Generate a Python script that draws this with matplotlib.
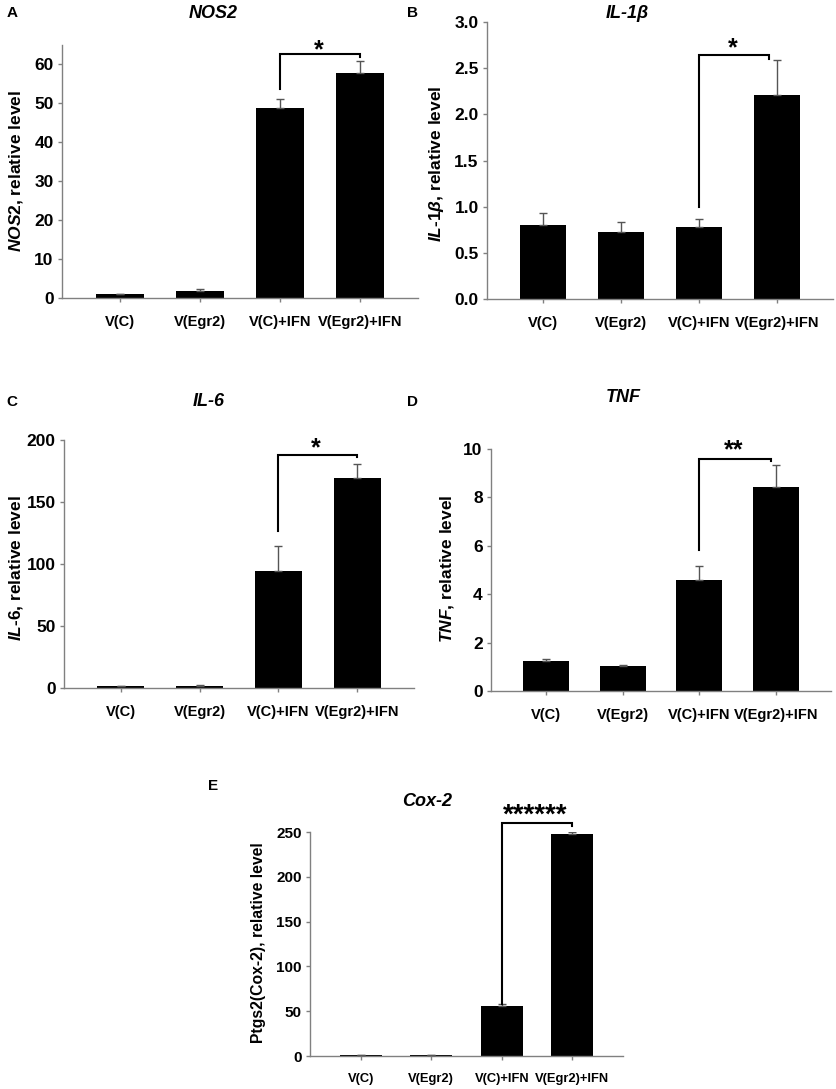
import matplotlib
matplotlib.use('Agg')
import matplotlib.pyplot as plt

W, H = 836, 1089

plt.rcParams['font.family'] = ['Liberation Sans', 'DejaVu Sans']
plt.rcParams['font.weight'] = 'bold'
plt.rcParams['mathtext.fontset'] = 'custom'
plt.rcParams['mathtext.it'] = 'Liberation Sans:italic:bold'
plt.rcParams['mathtext.rm'] = 'Liberation Sans:bold'
plt.rcParams['mathtext.bf'] = 'Liberation Sans:bold'

groups = ['V(C)', 'V(Egr2)', 'V(C)+IFN', 'V(Egr2)+IFN']

nos2_vals = [0.95, 1.8, 48.8, 57.9]
nos2_err = [0.1, 0.4, 2.4, 2.9]

il1b_vals = [0.80, 0.726, 0.776, 2.206]
il1b_err = [0.13, 0.11, 0.094, 0.384]

il6_vals = [1.5, 2.0, 94.3, 169.0]
il6_err = [0.5, 0.5, 20.3, 12.0]

tnf_vals = [1.22, 1.02, 4.58, 8.43]
tnf_err = [0.12, 0.04, 0.59, 0.91]

cox2_vals = [0.8, 0.8, 55.5, 248.0]
cox2_err = [0.3, 0.3, 2.0, 2.0]

# significance brackets: (left x, left bottom, top, right x, right bottom, stars)
nos2_sig = (2, 53.8, 62.6, 3, 61.8, '*')
il1b_sig = (2, 1.0, 2.64, 2.9, 2.6, '*')
il6_sig = (2, 127, 188, 3, 186, '*')
tnf_sig = (2, 5.83, 9.59, 2.93, 9.5, '**')
cox2_sig = (2, 58, 260, 3, 257, '******')


def px(x, y):
    return x / W, 1 - y / H


def make_axes(fig, left, top, right, bottom):
    return fig.add_axes([left / W, 1 - bottom / H, (right - left) / W, (bottom - top) / H])


def draw_panel(ax, vals, errs, ylim, yticks, sig, tick_fs=12.5, xtick_fs=10.5,
               star_fs=18, star_y=None, tick_fmt='{:g}'):
    x = list(range(len(groups)))
    ax.bar(x, vals, width=0.6, color='black', zorder=2)
    ax.errorbar(x, vals, yerr=[[0] * len(vals), errs], fmt='none', ecolor='#555555',
                elinewidth=1, capsize=3, capthick=1, zorder=3)
    ax.set_xlim(-0.72, 3.72)
    ax.set_ylim(*ylim)
    ax.set_yticks(yticks)
    ax.set_yticklabels([tick_fmt.format(t) for t in yticks], fontsize=tick_fs, fontweight='bold')
    ax.set_xticks(x)
    ax.set_xticklabels(groups, fontsize=xtick_fs, fontweight='bold')
    for s in ['top', 'right']:
        ax.spines[s].set_visible(False)
    for s in ['left', 'bottom']:
        ax.spines[s].set_color('#808080')
        ax.spines[s].set_linewidth(1)
    ax.tick_params(axis='y', direction='out', length=3, width=1, color='#808080', pad=3)
    ax.tick_params(axis='x', direction='out', length=3, width=1, color='#808080', pad=9)

    lx, lb, top, rx, rb, stars = sig
    ax.plot([lx, lx, rx, rx], [lb, top, top, rb], color='black', lw=1.5,
            clip_on=False, zorder=4, solid_joinstyle='miter')
    ax.text((lx + rx) / 2 - 0.02, star_y, stars, ha='center', va='center',
            fontsize=star_fs, fontweight='bold', clip_on=False)


fig = plt.figure(figsize=(W / 100, H / 100), dpi=100)

# A - NOS2
ax_a = make_axes(fig, 62, 45, 418, 298)
draw_panel(ax_a, nos2_vals, nos2_err, (0, 65), [0, 10, 20, 30, 40, 50, 60], nos2_sig,
           star_y=63.6)

# B - IL-1b
ax_b = make_axes(fig, 487, 22, 833, 299)
draw_panel(ax_b, il1b_vals, il1b_err, (0, 3.0), [0, 0.5, 1.0, 1.5, 2.0, 2.5, 3.0], il1b_sig,
           star_y=2.72, tick_fmt='{:.1f}')

# C - IL-6
ax_c = make_axes(fig, 64, 440, 414, 688)
draw_panel(ax_c, il6_vals, il6_err, (0, 200), [0, 50, 100, 150, 200], il6_sig,
           star_y=193)

# D - TNF
ax_d = make_axes(fig, 491, 449, 831, 691)
draw_panel(ax_d, tnf_vals, tnf_err, (0, 10), [0, 2, 4, 6, 8, 10], tnf_sig,
           star_y=9.95)

# E - Cox-2
ax_e = make_axes(fig, 310, 832, 623, 1056)
draw_panel(ax_e, cox2_vals, cox2_err, (0, 250), [0, 50, 100, 150, 200, 250], cox2_sig,
           tick_fs=11, xtick_fs=9.3, star_fs=20, star_y=268)

# panel letters
for letter, (x, y) in zip('ABCDE', [(12, 13), (413, 13), (12, 402), (413, 402), (213, 786)]):
    fig.text(*px(x, y), letter, ha='center', va='center', fontsize=11, fontweight='bold')

# titles
titles = ['NOS2', 'IL-1β', 'IL-6', 'TNF', 'Cox-2']
title_pos = [(213, 13), (627, 13), (209, 402), (623, 398), (427, 802)]
for t, (x, y) in zip(titles, title_pos):
    fig.text(*px(x, y), t, ha='center', va='center', fontsize=13, fontweight='bold',
             fontstyle='italic')

# y labels
ylabels = [r'$\mathit{NOS2}$, relative level',
           r'$\mathit{IL}$-$\mathit{1\beta}$, relative level',
           r'$\mathit{IL}$-$\mathit{6}$, relative level',
           r'$\mathit{TNF}$, relative level',
           'Ptgs2(Cox-2), relative level']
ylabel_pos = [(16, 171), (437, 164), (16, 568), (447, 569), (259, 943)]
ylabel_fs = [12.5, 12.5, 12.5, 12.5, 11.3]
for lab, (x, y), fs in zip(ylabels, ylabel_pos, ylabel_fs):
    fig.text(*px(x, y), lab, ha='center', va='center', rotation=90, fontsize=fs,
             fontweight='bold')

fig.savefig('out.png', dpi=100)
